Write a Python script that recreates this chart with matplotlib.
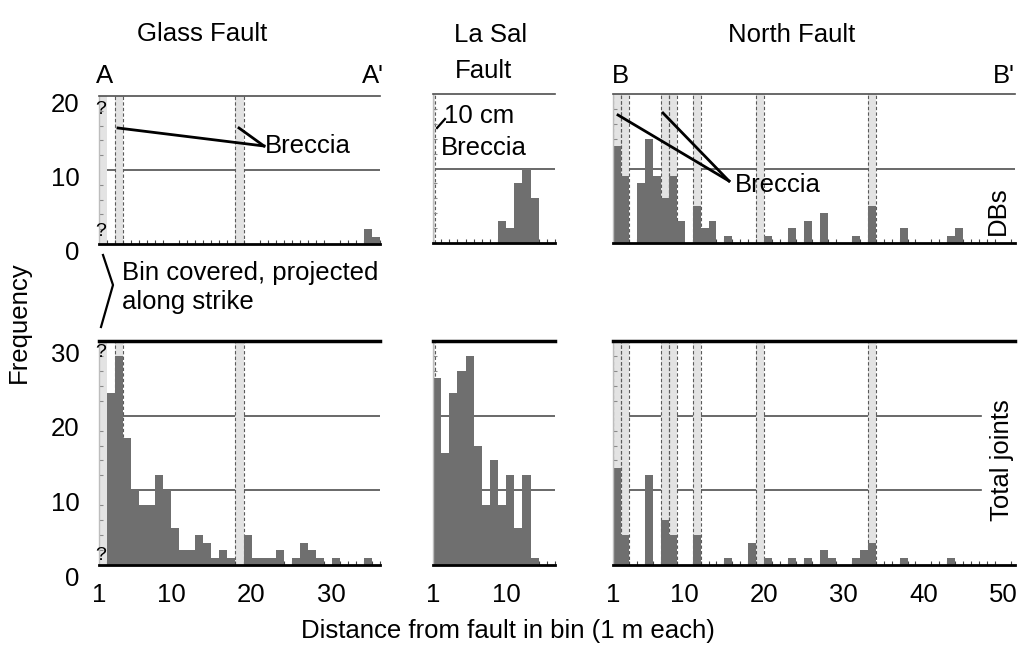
import numpy as np
import matplotlib.pyplot as plt
import matplotlib.transforms as mtransforms
from matplotlib.lines import Line2D

plt.rcParams['font.family'] = ['Liberation Sans', 'DejaVu Sans']

# counts per 1 m bin, bin i spans [i, i+1]
glass_dbs = [0] * 33 + [2, 1]
glass_joints = [0, 23, 28, 17, 10, 8, 8, 12, 10, 5,
                2, 2, 4, 3, 1, 2, 1, 0, 4, 1,
                1, 1, 2, 0, 1, 3, 2, 1, 0, 1,
                0, 0, 0, 1, 0]
glass_covered = [1]
glass_breccia = [3, 18]

lasal_dbs = [0, 0, 0, 0, 0, 0, 0, 0, 3, 2, 8, 10, 6, 0, 0]
lasal_joints = [25, 15, 23, 26, 28, 16, 8, 14, 8, 12, 5, 12, 1, 0, 0]
lasal_breccia = [1]  # 10 cm zone

north_dbs = [13, 9, 0, 8, 14, 9, 6, 9, 3, 0,
             5, 2, 3, 0, 1, 0, 0, 0, 0, 1,
             0, 0, 2, 0, 3, 0, 4, 0, 0, 0,
             1, 0, 5, 0, 0, 0, 2, 0, 0, 0,
             0, 0, 1, 2, 0, 0, 0, 0, 0, 0]
north_joints = [13, 4, 0, 0, 12, 0, 6, 4, 0, 0,
                4, 0, 0, 0, 1, 0, 0, 3, 0, 1,
                0, 0, 1, 0, 1, 0, 2, 1, 0, 0,
                1, 2, 3, 0, 0, 0, 1, 0, 0, 0,
                0, 0, 1, 0, 0, 0, 0, 0, 0, 0]
north_breccia = [1, 2, 7, 8, 11, 19, 33]

W, H = 1018, 651
FS = 18.5
fig = plt.figure(figsize=(W / 100, H / 100), dpi=100)

BAR = '#6f6f6f'
BAND = '#e3e3e3'
GRID = '#4f4f4f'


def px_axes(x0, x1, y0, y1):
    return fig.add_axes([x0 / W, 1 - y1 / H, (x1 - x0) / W, (y1 - y0) / H])


def panel(ax, counts, xmax, ymax, breccia, bwidth, covered, xticks,
          show_y, upper, grid_end=1.0):
    bins = np.arange(1, len(counts) + 1)
    ax.set_xlim(1, xmax)
    ax.set_ylim(0, ymax)
    for g in range(10, ymax, 10):
        ax.axhline(g, xmax=grid_end, color=GRID, lw=1.2, zorder=0.5)
    for c in covered:
        ax.axvspan(c, c + 1, color=BAND, lw=0, zorder=1)
    for b in breccia:
        ax.axvspan(b, b + bwidth, color=BAND, lw=0, zorder=1)
        for e in (b, b + bwidth):
            ax.axvline(e, color='#5a5a5a', lw=0.8, ls=(0, (3, 2)), zorder=1.5)
    ax.bar(bins, counts, width=1, align='edge', color=BAR, lw=0, zorder=2)

    ax.spines['right'].set_visible(False)
    ax.spines['left'].set_color('#bdbdbd')
    ax.spines['left'].set_linewidth(1)
    ax.spines['bottom'].set_color('black')
    ax.spines['bottom'].set_linewidth(2)
    if upper:
        ax.spines['top'].set_color(GRID)
        ax.spines['top'].set_linewidth(1.2)
    else:
        ax.spines['top'].set_color('black')
        ax.spines['top'].set_linewidth(2.5)

    ax.set_xticks(xticks)
    ax.set_xticks(np.arange(1, int(xmax) + 1), minor=True)
    ax.tick_params(axis='x', which='major', length=0, labelsize=FS, pad=13)
    ax.tick_params(axis='x', which='minor', direction='in', length=3,
                   width=0.8, color='#444444')
    ax.set_yticks(range(0, ymax + 1, 10))
    ax.set_yticks(range(0, ymax + 1, 2), minor=True)
    ax.tick_params(axis='y', which='major', length=0, labelsize=FS, pad=14)
    ax.tick_params(axis='y', which='minor', direction='in', length=3,
                   width=0.8, color='#8a8a8a')
    if not show_y:
        ax.set_yticklabels([])
    else:
        shift = mtransforms.ScaledTranslation(0, -(0.06 if upper else 0.11),
                                              fig.dpi_scale_trans)
        for lab in ax.get_yticklabels():
            lab.set_transform(lab.get_transform() + shift)


ax1 = px_axes(99, 380, 96, 244)
panel(ax1, glass_dbs, 36, 20, glass_breccia, 1, glass_covered,
      [1, 10, 20, 30], True, True)
ax1.set_xticklabels([])
ax2 = px_axes(99, 380, 341, 565)
panel(ax2, glass_joints, 36, 30, glass_breccia, 1, glass_covered,
      [1, 10, 20, 30], True, False)

ax3 = px_axes(433, 555, 94, 243)
panel(ax3, lasal_dbs, 16, 20, lasal_breccia, 0.2, [], [1, 10], False, True)
ax3.set_xticklabels([])
ax4 = px_axes(433, 555, 341, 565)
panel(ax4, lasal_joints, 16, 30, lasal_breccia, 0.2, [], [1, 10], False, False)

ax5 = px_axes(613, 1015, 94, 243)
panel(ax5, north_dbs, 51.5, 20, north_breccia, 1, [], [1, 10, 20, 30, 40, 50],
      False, True)
ax5.set_xticklabels([])
ax6 = px_axes(613, 1015, 341, 565)
panel(ax6, north_joints, 51.5, 30, north_breccia, 1, [], [1, 10, 20, 30, 40, 50],
      False, False, grid_end=0.915)


def ftext(x, y, s, **kw):
    kw.setdefault('fontsize', FS)
    kw.setdefault('va', 'center')
    fig.text(x / W, 1 - y / H, s, **kw)


def fline(pts, lw=2):
    xs = [p[0] / W for p in pts]
    ys = [1 - p[1] / H for p in pts]
    fig.add_artist(Line2D(xs, ys, color='black', lw=lw))


ftext(202, 34, 'Glass Fault', ha='center')
ftext(454, 35, 'La Sal', ha='left')
ftext(455, 71, 'Fault', ha='left')
ftext(792, 35, 'North Fault', ha='center')
ftext(105, 76, 'A', ha='center')
ftext(373, 76, "A'", ha='center')
ftext(620, 76, 'B', ha='center')
ftext(1004, 76, "B'", ha='center')

ftext(19, 322, 'Frequency', ha='center', rotation=90)
ftext(508, 631, 'Distance from fault in bin (1 m each)', ha='center')
ftext(998, 211, 'DBs', ha='center', rotation=90)
ftext(1002, 460, 'Total joints', ha='center', rotation=90)

# glass fault notes
for y in (109, 232, 353, 556):
    ftext(101, y, '?', ha='center', fontsize=14)
ftext(265, 146, 'Breccia', ha='left')
fline([(118, 128), (264, 146)])
fline([(239, 128), (264, 146)])
ftext(122, 273, 'Bin covered, projected', ha='left')
ftext(122, 302, 'along strike', ha='left')
fline([(103, 255), (113, 285), (101, 327)], lw=1.6)

# la sal note
ftext(444, 116, '10 cm', ha='left')
ftext(441, 148, 'Breccia', ha='left')
fline([(437, 128), (445, 119)], lw=1.6)

# north fault note
ftext(735, 185, 'Breccia', ha='left')
fline([(618, 115), (729, 181)])
fline([(663, 113), (729, 181)])

fig.savefig('out.png', dpi=100)
